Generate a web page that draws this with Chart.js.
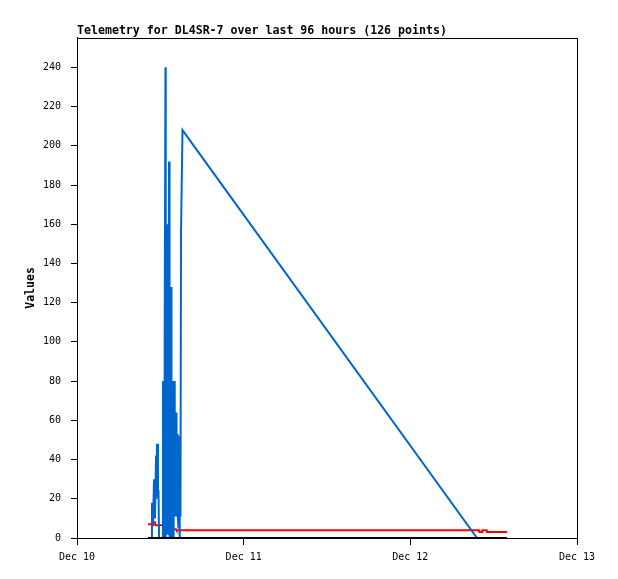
<!DOCTYPE html>
<html>
<head>
<meta charset="utf-8">
<script src="https://cdn.jsdelivr.net/npm/chart.js@4/dist/chart.umd.min.js"></script>
<style>
  html, body { margin: 0; padding: 0; background: #fff; }
  #wrap { width: 618px; height: 579px; }
</style>
</head>
<body>
<div id="wrap"><canvas id="c" width="618" height="579"></canvas></div>
<script>
// Hours since Dec 10 00:00
const xTickLabels = ['Dec 10', 'Dec 11', 'Dec 12', 'Dec 13'];
const titleText = 'Telemetry for DL4SR-7 over last 96 hours (126 points)';

const blueHours = [10.22, 10.79, 10.80, 10.94, 11.09, 11.23, 11.38, 11.45, 11.52, 11.66, 11.74, 11.81,
  12.37, 12.38, 12.42, 12.46, 12.50, 12.53, 12.57, 12.60, 12.64, 12.67, 12.74, 12.78, 12.82, 12.85, 12.89,
  12.96, 13.03, 13.10, 13.14, 13.18, 13.25, 13.28, 13.32, 13.39, 13.42, 13.46, 13.50, 13.54, 13.57, 13.61,
  13.64, 13.68, 13.71, 13.75, 13.78, 13.82, 13.86, 13.90, 13.93, 13.97, 14.04, 14.11, 14.18, 14.26,
  14.33, 14.40, 14.47, 14.54, 14.62, 14.69, 14.76, 14.83, 14.90, 14.98, 15.09, 15.19, 57.60];
const blueValues = [0, 0, 18, 6, 30, 10, 42, 20, 48, 24, 24, 0,
  0, 80, 0, 80, 2, 80, 0, 97, 4, 97, 240, 0, 97, 2, 97,
  27, 97, 160, 2, 97, 192, 0, 128, 3, 128, 0, 97, 128, 2, 97,
  0, 80, 0, 80, 2, 80, 0, 80, 3, 80, 11, 64, 11, 64,
  11, 53, 11, 11, 5, 11, 0, 52, 11, 156, 156, 208, 0];

const redHours = [10.22, 10.80, 10.84, 11.23, 11.28, 12.38, 12.53, 14.26, 14.33, 57.89, 57.93, 58.32, 58.36, 59.00, 59.04, 61.92];
const redValues = [7, 7, 8, 8, 6.5, 6.5, 4.5, 4.5, 4, 4, 3, 3, 4, 4, 3, 3];

const blackHours = [10.22, 61.92];
const blackValues = [0, 0];

const toPts = (xs, ys) => xs.map((x, i) => ({ x: x, y: ys[i] }));

const frame = {
  id: 'frame',
  afterLayout(chart) {
    chart.titleBlock.left = chart.chartArea.left;
  },
  afterDatasetsDraw(chart) {
    const a = chart.chartArea, ctx = chart.ctx;
    ctx.save();
    ctx.strokeStyle = '#000';
    ctx.lineWidth = 1;
    ctx.strokeRect(Math.round(a.left) + 0.5, Math.round(a.top) + 0.5,
      Math.round(a.right - a.left), Math.round(a.bottom - a.top));
    ctx.restore();
  }
};

const mono = 'DejaVu Sans Mono';

new Chart(document.getElementById('c'), {
  type: 'line',
  data: {
    datasets: [
      { label: 'black', data: toPts(blackHours, blackValues), borderColor: '#000000', borderWidth: 2, pointRadius: 0, tension: 0, order: 0 },
      { label: 'blue', data: toPts(blueHours, blueValues), borderColor: '#0066cc', borderWidth: 2, pointRadius: 0, tension: 0, order: 1 },
      { label: 'red', data: toPts(redHours, redValues), borderColor: '#ff0000', borderWidth: 2, pointRadius: 0, tension: 0, order: 2 }
    ]
  },
  options: {
    responsive: false,
    animation: false,
    layout: { padding: { left: 0, right: 41, top: 0, bottom: 0 } },
    plugins: {
      legend: { display: false },
      tooltip: { enabled: false },
      title: {
        display: true,
        text: titleText,
        align: 'start',
        color: '#000',
        font: { family: mono, size: 11.6, weight: 'bold' },
        padding: { top: 24, bottom: 0 }
      }
    },
    scales: {
      x: {
        type: 'linear',
        min: 0, max: 72,
        afterFit: s => { s.height = 41; },
        ticks: {
          stepSize: 24,
          color: '#000',
          padding: 6,
          maxRotation: 0,
          font: { family: mono, size: 10 },
          callback: v => xTickLabels[Math.round(v / 24)]
        },
        grid: { drawOnChartArea: false, drawTicks: true, tickLength: 7, color: '#000', tickColor: '#000' },
        border: { display: true, color: '#000', width: 1 }
      },
      y: {
        type: 'linear',
        min: 0, max: 255,
        afterFit: s => { s.width = 77; },
        afterBuildTicks: s => { s.ticks = s.ticks.filter(t => t.value % 20 === 0); },
        ticks: {
          stepSize: 20,
          color: '#000',
          padding: 10,
          font: { family: mono, size: 10 }
        },
        title: {
          display: true,
          text: 'Values',
          color: '#000',
          font: { family: mono, size: 11.5, weight: 'bold' },
          padding: { top: 24, bottom: 0 }
        },
        grid: { drawOnChartArea: false, drawTicks: true, tickLength: 6, color: '#000', tickColor: '#000' },
        border: { display: true, color: '#000', width: 1 }
      }
    }
  },
  plugins: [frame]
});
</script>
</body>
</html>
